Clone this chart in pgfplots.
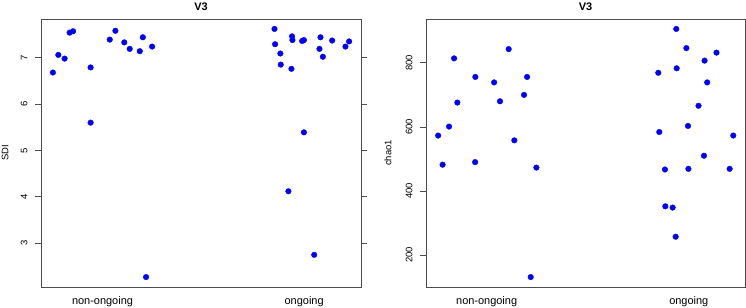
\documentclass[border=0pt]{standalone}
\usepackage{pgfplots}
\pgfplotsset{compat=1.18}
\usepackage{pgfplotstable}
\usepackage{fontspec}
\setmainfont{Liberation Sans}

\pgfplotstableread{
x y
0.754 6.68
0.781 7.06
0.812 6.98
0.837 7.54
0.854 7.57
0.941 6.79
0.941 5.60
1.036 7.39
1.064 7.58
1.108 7.33
1.135 7.19
1.185 7.14
1.200 7.44
1.246 7.24
1.216 2.27
}\sdinon
\pgfplotstableread{
x y
1.853 7.62
1.856 7.29
1.882 7.09
1.884 6.85
1.937 6.76
1.940 7.46
1.942 7.38
1.990 7.36
1.999 7.38
1.999 5.39
2.076 7.19
2.081 7.44
2.093 7.02
2.139 7.37
2.205 7.24
2.223 7.35
1.922 4.12
2.050 2.75
}\sdion
\pgfplotstableread{
x y
0.760 573
0.814 601
0.839 814
0.855 676
0.944 756
1.037 739
1.066 680
1.109 843
1.137 558
1.185 700
1.200 756
0.782 482
0.943 490
1.246 473
1.218 131
}\chaonon
\pgfplotstableread{
x y
1.849 769
1.854 584
1.938 906
1.940 783
1.988 846
1.996 603
2.048 666
2.078 807
2.091 739
2.137 832
2.220 573
1.882 467
1.998 469
2.075 510
2.202 469
1.884 352
1.920 348
1.935 257
}\chaoon

\pgfplotsset{
  rstyle/.style={
    scale only axis,
    height=268bp,
    axis line style={black!70, line width=0.8pt},
    tick style={black!70, line width=0.8pt},
    tick align=outside,
    major tick length=6bp,
    xtick={1,2},
    xticklabels={non-ongoing, ongoing},
    xtick style={draw=none},
    xticklabel style={font=\fontsize{11}{13}\selectfont, anchor=base, yshift=-11bp},
    yticklabel style={font=\fontsize{9.5}{11}\selectfont, xshift=-4bp, rotate=90, anchor=south},
    /pgf/number format/assume math mode=true,
    every axis y label/.style={at={(axis description cs:0,0.5)}, anchor=center, font=\fontsize{9.5}{11}\selectfont, rotate=90},
    title style={font=\fontsize{11}{13}\selectfont\bfseries, at={(axis description cs:0.5,1)}, anchor=base, yshift=3bp},
    title=V3,
    clip=false,
  }
}

\begin{document}
\begin{tikzpicture}
\useasboundingbox (0,0) rectangle (746bp,308bp);
\begin{axis}[rstyle,
  at={(41bp,21bp)}, anchor=south west,
  width=320bp,
  xmin=0.695, xmax=2.282, ymin=2.056, ymax=7.834,
  ytick={3,4,5,6,7},
  ylabel={SDI},
  ylabel style={yshift=36bp},
]
\addplot[only marks, mark=*, mark size=2.8bp, color=blue, fill=blue] table[x=x,y=y] {\sdinon};
\addplot[only marks, mark=*, mark size=2.8bp, color=blue, fill=blue] table[x=x,y=y] {\sdion};
\end{axis}
\begin{axis}[rstyle,
  at={(426bp,21bp)}, anchor=south west,
  width=319bp,
  xmin=0.700, xmax=2.278, ymin=100, ymax=937,
  ytick={200,400,600,800},
  ylabel={chao1},
  ylabel style={yshift=38bp},
]
\addplot[only marks, mark=*, mark size=2.8bp, color=blue, fill=blue] table[x=x,y=y] {\chaonon};
\addplot[only marks, mark=*, mark size=2.8bp, color=blue, fill=blue] table[x=x,y=y] {\chaoon};
\end{axis}
\end{tikzpicture}
\end{document}
